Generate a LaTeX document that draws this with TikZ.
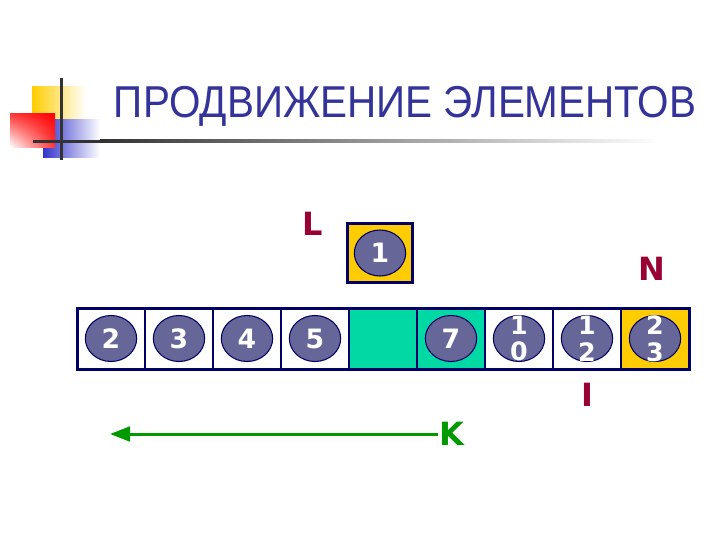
\documentclass[tikz,border=0pt]{standalone}
\usepackage{graphicx}
\usepackage{fontspec}
\setmainfont{Liberation Sans}
\newfontfamily\verd{DejaVu Sans}
\usetikzlibrary{matrix,positioning,shapes.geometric,arrows.meta,shadings}
\definecolor{navy}{HTML}{000066}
\definecolor{headblue}{HTML}{333399}
\definecolor{ballgray}{HTML}{666699}
\definecolor{mint}{HTML}{00D9A3}
\definecolor{gold}{HTML}{FFCC00}
\definecolor{maroon}{HTML}{990033}
\definecolor{kgreen}{HTML}{009900}
\definecolor{decoblue}{HTML}{3333CC}
\definecolor{linegray}{HTML}{333333}

\begin{document}
\begin{tikzpicture}[x=0.75pt,y=-0.75pt,
cell/.style={rectangle, draw=navy, line width=1.5pt, minimum width=51pt, minimum height=45.75pt, outer sep=0pt, inner sep=0pt},
array/.style={matrix of nodes, nodes in empty cells, column sep=-1.5pt, nodes={cell}},
ball/.style={ellipse, draw=navy, line width=0.8pt, fill=ballgray, minimum width=38.5pt, minimum height=34.5pt, inner sep=0pt, text=white, font=\verd\bfseries\fontsize{20}{20}\selectfont},
twodigit/.style={text=white, align=center, inner sep=0pt, font=\verd\bfseries\fontsize{19}{20}\selectfont},
tag/.style={inner sep=1pt, text=maroon, font=\verd\bfseries\fontsize{24}{24}\selectfont}]

\useasboundingbox (0,0) rectangle (720,540);

% corner decoration
\shade[left color=gold, middle color=gold, right color=white] (32,86) rectangle (86,120);
\shade[left color=decoblue, middle color=decoblue, right color=white] (43,119) rectangle (100,157);
\shade[upper right=red, upper left=red!80!white, lower right=red!80!white, lower left=white] (10,113) rectangle (55,147);
\draw[line width=2.25pt, linegray] (61,78) -- (61,160);
\draw[line width=2.25pt, linegray] (33,141) -- (100,141);
\shade[left color=linegray, right color=white] (100,139.5) rectangle (660,142.5);

\node[font=\fontsize{33.5}{36}\selectfont, text=headblue, anchor=base] (head) at (405,117) {\scalebox{0.905}[1]{ПРОДВИЖЕНИЕ ЭЛЕМЕНТОВ}};

% the array
\matrix(arr) [array] at (383,338.5) {& & & & |[fill=mint]| & |[fill=mint]| & & & |[fill=gold]| \\};
\draw[navy, line width=2.25pt] (arr-1-1.north west) rectangle (arr-1-9.south east);

\foreach \c/\v in {1/2,2/3,3/4,4/5,6/7}
  \node[ball] (b\c) at (arr-1-\c) {\v};
\foreach \c/\v/\w in {7/1/0,8/1/2,9/2/3} {
  \node[ball] (b\c) at (arr-1-\c) {};
  \node[twodigit] (t\c) at (b\c) {\v\\\w};
}

% the element taken out
\node[cell, fill=gold, line width=2pt, minimum width=48.75pt, minimum height=44.25pt] (slot) at (380,253) {};
\node[ball] (b0) at (slot) {1};

\node[tag] (L) at (313,224) {L};
\node[tag] (N) at (652,269) {N};
\node[tag] (I) at (587,395) {I};
\node[tag, text=kgreen] (K) at (452,434) {K};
\coordinate (kend) at (110,434);
\draw[kgreen, line width=2.25pt, -{Triangle[length=15pt,width=11pt]}] (K.west) -- (kend);
\end{tikzpicture}
\end{document}
